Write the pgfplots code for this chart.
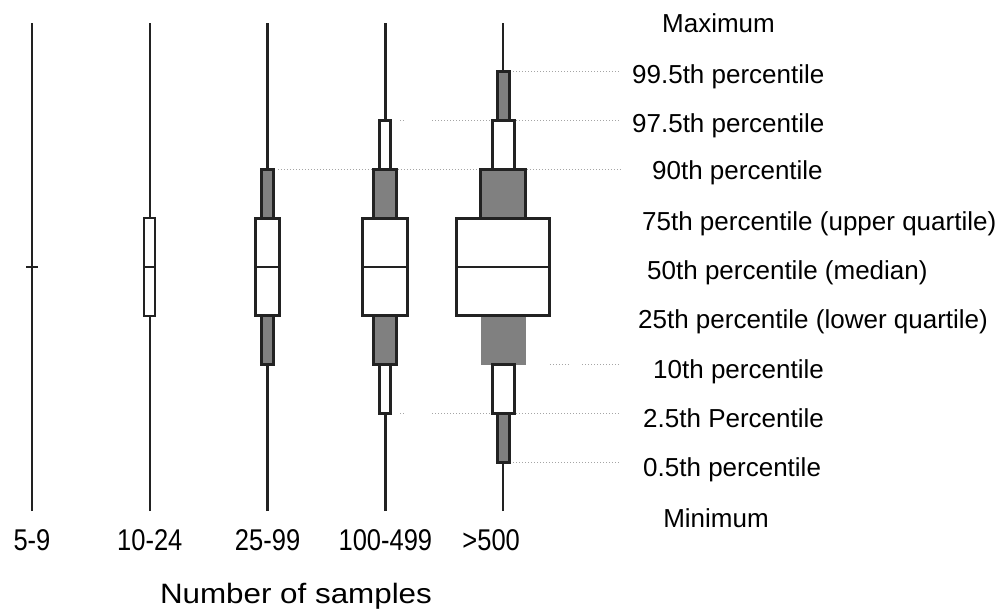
\documentclass[border=0pt]{standalone}
\usepackage{fontspec}
\setmainfont{Liberation Sans}
\newfontfamily\tickfam[FakeStretch=0.85]{Liberation Sans}
\newfontfamily\labfam[FakeStretch=1.12]{Liberation Sans}
\usepackage{pgfplots}
\pgfplotsset{compat=1.18}

\definecolor{lvdark}{RGB}{34,34,34}
\definecolor{lvgray}{RGB}{128,128,128}
\definecolor{lvdot}{RGB}{165,165,165}

\tikzset{
    lvwhite/.style={draw=lvdark, fill=white, line width=3bp, line join=miter},
    lvgrey/.style={draw=lvdark, fill=lvgray, line width=3bp, line join=miter},
    lvfill/.style={draw=none, fill=lvgray},
    whisk/.style={draw=lvdark, line width=#1},
    median/.style={draw=lvdark, line width=1.6bp},
    guide/.style={draw=lvdot, line width=1.2bp, dash pattern=on 1.2bp off 1.8bp},
    lab/.style={anchor=base west, inner sep=0pt, font=\fontsize{26bp}{30bp}\selectfont},
}

\begin{document}
\begin{tikzpicture}
\begin{axis}[
    name=ax,
    scale only axis,
    width=1006bp, height=608bp,
    xmin=-0.2716, xmax=8.2683,
    ymin=-1.9877, ymax=10.4713,
    clip=false,
    axis line style={draw=none},
    major tick length=0pt,
    ytick=\empty,
    xtick={0,1,2,3,4},
    xticklabels={5-9,10-24,25-99,100-499,\hspace*{-24bp}>500},
    xticklabel style={anchor=base, yshift=58bp, inner sep=0pt,
        font=\tickfam\fontsize{30bp}{34bp}\selectfont},
    xlabel={Number of samples},
    xlabel style={at={(axis description cs:0.2942,0.0066)}, anchor=base,
        inner sep=0pt, font=\labfam\fontsize{28bp}{32bp}\selectfont},
]

% guide lines from the >500 boxes to the labels
\addplot[guide] coordinates {(4.058,9) (4.992,9)};
\addplot[guide] coordinates {(3.124,8) (3.158,8)};
\addplot[guide] coordinates {(3.396,8) (4.992,8)};
\addplot[guide] coordinates {(2.088,7) (4.992,7)};
\addplot[guide] coordinates {(4.397,3) (4.567,3)};
\addplot[guide] coordinates {(4.669,3) (4.992,3)};
\addplot[guide] coordinates {(3.124,2) (3.158,2)};
\addplot[guide] coordinates {(3.396,2) (4.992,2)};
\addplot[guide] coordinates {(4.058,1) (4.992,1)};

% 5-9
\addplot[whisk=2bp] coordinates {(0,0) (0,10)};
\addplot[whisk=2bp] coordinates {(-0.047,5) (0.047,5)};

% 10-24
\addplot[whisk=2.2bp] coordinates {(1,0) (1,10)};
\addplot[lvwhite, line width=2.2bp] coordinates {(0.953,4) (1.047,4) (1.047,6) (0.953,6)} -- cycle;
\addplot[median] coordinates {(0.953,5) (1.047,5)};

% 25-99
\addplot[whisk=3.7bp] coordinates {(2,0) (2,10)};
\addplot[lvgrey] coordinates {(1.949,6) (2.051,6) (2.051,7) (1.949,7)} -- cycle;
\addplot[lvgrey] coordinates {(1.949,3) (2.051,3) (2.051,4) (1.949,4)} -- cycle;
\addplot[lvwhite] coordinates {(1.896,4) (2.104,4) (2.104,6) (1.896,6)} -- cycle;
\addplot[median] coordinates {(1.896,5) (2.104,5)};

% 100-499
\addplot[whisk=3.7bp] coordinates {(3,0) (3,10)};
\addplot[lvwhite] coordinates {(2.953,7) (3.047,7) (3.047,8) (2.953,8)} -- cycle;
\addplot[lvwhite] coordinates {(2.953,2) (3.047,2) (3.047,3) (2.953,3)} -- cycle;
\addplot[lvgrey] coordinates {(2.902,6) (3.098,6) (3.098,7) (2.902,7)} -- cycle;
\addplot[lvgrey] coordinates {(2.902,3) (3.098,3) (3.098,4) (2.902,4)} -- cycle;
\addplot[lvwhite] coordinates {(2.809,4) (3.191,4) (3.191,6) (2.809,6)} -- cycle;
\addplot[median] coordinates {(2.809,5) (3.191,5)};

% >500
\addplot[whisk=1.8bp] coordinates {(4,0) (4,10)};
\addplot[lvfill] coordinates {(3.809,3) (4.193,3) (4.193,4) (3.809,4)} -- cycle;
\addplot[lvgrey] coordinates {(3.949,8) (4.051,8) (4.051,9) (3.949,9)} -- cycle;
\addplot[lvgrey] coordinates {(3.949,1) (4.051,1) (4.051,2) (3.949,2)} -- cycle;
\addplot[lvwhite] coordinates {(3.907,7) (4.093,7) (4.093,8) (3.907,8)} -- cycle;
\addplot[lvwhite] coordinates {(3.907,2) (4.093,2) (4.093,3) (3.907,3)} -- cycle;
\addplot[lvgrey] coordinates {(3.809,6) (4.191,6) (4.191,7) (3.809,7)} -- cycle;
\addplot[lvwhite] coordinates {(3.605,4) (4.395,4) (4.395,6) (3.605,6)} -- cycle;
\addplot[median] coordinates {(3.605,5) (4.395,5)};

% level labels
\node[lab] at (axis cs:5.348,9.795) {Maximum};
\node[lab] at (axis cs:5.093,8.770) {99.5th percentile};
\node[lab] at (axis cs:5.093,7.766) {97.5th percentile};
\node[lab] at (axis cs:5.263,6.783) {90th percentile};
\node[lab] at (axis cs:5.178,5.758) {75th percentile (upper quartile)};
\node[lab] at (axis cs:5.221,4.754) {50th percentile (median)};
\node[lab] at (axis cs:5.144,3.750) {25th percentile (lower quartile)};
\node[lab] at (axis cs:5.272,2.725) {10th percentile};
\node[lab] at (axis cs:5.187,1.701) {2.5th Percentile};
\node[lab] at (axis cs:5.187,0.697) {0.5th percentile};
\node[lab] at (axis cs:5.357,-0.328) {Minimum};

\end{axis}
\pgfresetboundingbox
\path[use as bounding box] (ax.south west) rectangle (ax.north east);
\end{tikzpicture}
\end{document}
